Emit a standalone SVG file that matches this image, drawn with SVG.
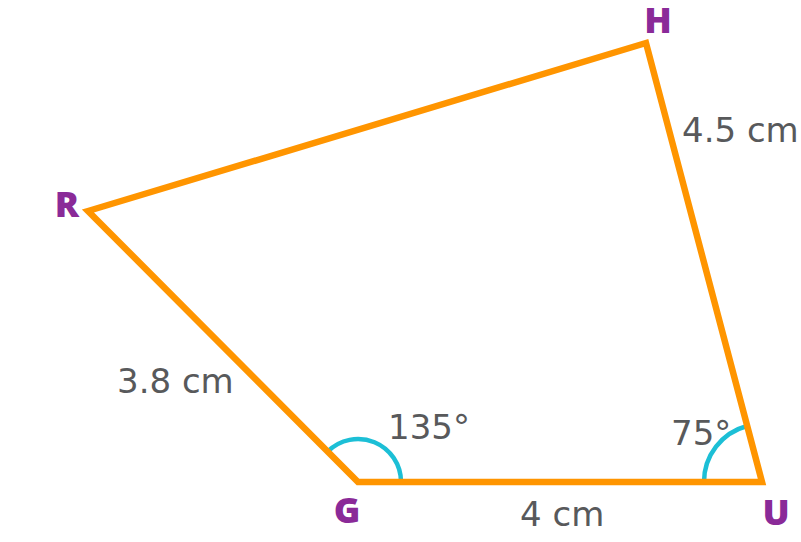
<svg xmlns="http://www.w3.org/2000/svg" width="801" height="542" viewBox="0 0 801 542">
<style>
.edge{fill:none;stroke:#FF9500;stroke-width:6.5;stroke-linejoin:miter;stroke-miterlimit:10}
.arc{fill:none;stroke:#1CBFD6;stroke-width:4.5}
.v{font-family:"Open Sans","Liberation Sans",sans-serif;font-weight:800;font-size:36px;fill:#8A2A98}
.m{font-family:"DejaVu Sans","Liberation Sans",sans-serif;font-size:34px;fill:#58595B}
</style>
<rect width="801" height="542" fill="#fff"/>
<g id="angles">
<path class="arc" d="M401 482 A43 43 0 0 0 327.6 451.6"/>
<path class="arc" d="M704 482 A58 58 0 0 1 747 426"/>
</g>
<g id="connectors">
<polygon class="edge" points="88,211 646,43 762,482 358,482"/>
</g>
<g id="R"><text class="v" x="67" y="217" text-anchor="middle">R</text></g>
<g id="H"><text class="v" x="658" y="33" text-anchor="middle">H</text></g>
<g id="G"><text class="v" x="347" y="523" text-anchor="middle">G</text></g>
<g id="U"><text class="v" x="776" y="525" text-anchor="middle">U</text></g>
<g id="labels">
<text class="m" x="117" y="393">3.8 cm</text>
<text class="m" x="682" y="142">4.5 cm</text>
<text class="m" x="520" y="526">4 cm</text>
<text class="m" x="388" y="439">135°</text>
<text class="m" x="671" y="445">75°</text>
</g>
</svg>
